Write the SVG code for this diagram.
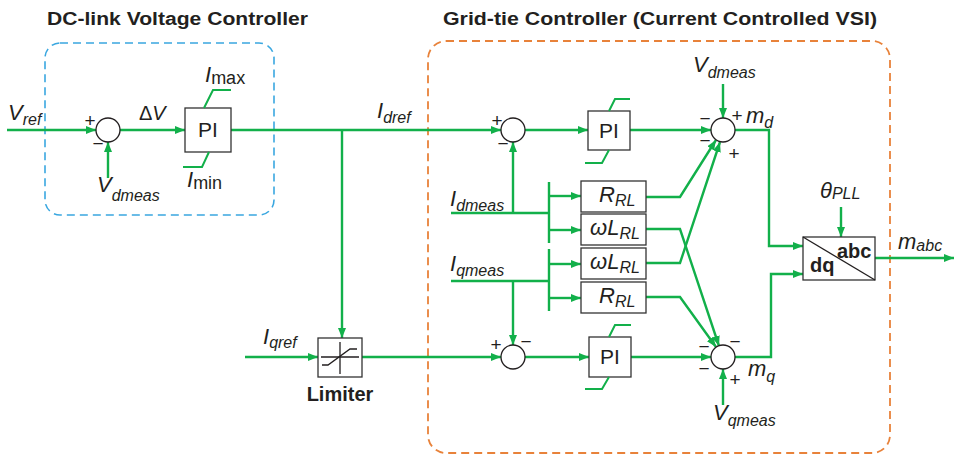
<svg xmlns="http://www.w3.org/2000/svg" width="956" height="456" viewBox="0 0 956 456">
<defs>
<marker id="ah" markerUnits="userSpaceOnUse" markerWidth="11" markerHeight="9" refX="10" refY="4" orient="auto">
<path d="M0,0 L10,4 L0,8 z" fill="#12b04a"/>
</marker>
<style>
.w{fill:none;stroke:#12b04a;stroke-width:2.4}
.a{marker-end:url(#ah)}
.box{fill:#fff;stroke:#333;stroke-width:1.3}
.sat{fill:none;stroke:#12b04a;stroke-width:2}
.t{font-family:"Liberation Sans",Arial,sans-serif;fill:#231f20}
.v{font-family:"Liberation Sans",Arial,sans-serif;font-style:italic;font-size:22px;fill:#231f20}
.s{font-size:16px}
.b{font-family:"Liberation Sans",Arial,sans-serif;font-weight:bold;fill:#231f20}
.sg{font-family:"Liberation Sans",Arial,sans-serif;font-size:19px;fill:#231f20;text-anchor:middle}
.ln{fill:none;stroke:#231f20;stroke-width:1.3}
</style>
</defs>
<rect width="956" height="456" fill="#fff"/>

<g id="titles">
<text class="b" x="47" y="25" font-size="18" textLength="261" lengthAdjust="spacingAndGlyphs">DC-link Voltage Controller</text>
<text class="b" x="443" y="25" font-size="18" textLength="434" lengthAdjust="spacingAndGlyphs">Grid-tie Controller (Current Controlled VSI)</text>
</g>

<g id="dc-link-box">
<rect x="45" y="43" width="229" height="172" rx="15" fill="none" stroke="#3aa7e0" stroke-width="1.6" stroke-dasharray="8,5"/>
</g>
<g id="grid-tie-box">
<rect x="428" y="41" width="462" height="412" rx="18" fill="none" stroke="#e8823a" stroke-width="1.8" stroke-dasharray="8,5"/>
</g>

<g id="connectors">
<path class="w a" d="M7,130 H96"/>
<path class="w a" d="M108,178 V142"/>
<path class="w a" d="M120,130 H185"/>
<path class="w a" d="M231,130 H501"/>
<path class="w a" d="M342,130 V338"/>
<path class="w a" d="M245,357 H318"/>
<path class="w a" d="M362,357 H501"/>
<path class="w a" d="M525,130 H588"/>
<path class="w a" d="M525,357 H589"/>
<path class="w" d="M451,213 H549 M549,182 V243"/>
<path class="w a" d="M549,196 H581"/>
<path class="w a" d="M549,230 H581"/>
<path class="w a" d="M513,213 V142"/>
<path class="w" d="M451,281 H549 M549,249 V311"/>
<path class="w a" d="M549,264 H581"/>
<path class="w a" d="M549,298 H581"/>
<path class="w a" d="M513,281 V345"/>
<path class="w a" d="M630,130 H711"/>
<path class="w a" d="M631,357 H711"/>
<path class="w a" d="M646,197 H680 L716,140"/>
<path class="w a" d="M646,263 H680 L720,142"/>
<path class="w a" d="M646,229 H680 L719,346"/>
<path class="w a" d="M646,297 H680 L716,347"/>
<path class="w a" d="M723,84 V118"/>
<path class="w a" d="M723,405 V369"/>
<path class="w a" d="M735,130 H769 V246 H803"/>
<path class="w a" d="M735,357 H771 V274 H803"/>
<path class="w a" d="M841,207 V237"/>
<path class="w a" d="M875,258 H954"/>
</g>

<g id="labels">
<text class="v" x="8" y="120">V<tspan class="s" dy="5">ref</tspan></text>
<text class="v" x="97" y="192">V<tspan class="s" dy="9">dmeas</tspan></text>
<text class="t" x="139" y="120" font-size="20">Δ<tspan font-style="italic">V</tspan></text>
<text class="v" x="205" y="82">I<tspan font-style="normal" font-size="18" dy="2">max</tspan></text>
<text class="v" x="187" y="187">I<tspan font-style="normal" font-size="18" dy="2">min</tspan></text>
<text class="v" x="377" y="118">I<tspan class="s" dy="5">dref</tspan></text>
<text class="v" x="263" y="344">I<tspan class="s" dy="4">qref</tspan></text>
<text class="v" x="450" y="206">I<tspan class="s" dy="5">dmeas</tspan></text>
<text class="v" x="450" y="271">I<tspan class="s" dy="5">qmeas</tspan></text>
<text class="v" x="693" y="72">V<tspan class="s" dy="6">dmeas</tspan></text>
<text class="v" x="713" y="420">V<tspan class="s" dy="6">qmeas</tspan></text>
<text class="v" x="746" y="123">m<tspan class="s" dy="5">d</tspan></text>
<text class="v" x="748" y="376">m<tspan class="s" dy="6">q</tspan></text>
<text class="v" x="820" y="198">θ<tspan class="s" dy="1">PLL</tspan></text>
<text class="v" x="898" y="249">m<tspan class="s" dy="2">abc</tspan></text>
<text class="b" x="340" y="401" font-size="20" text-anchor="middle">Limiter</text>
</g>

<g id="sum1">
<circle cx="108" cy="130" r="12" fill="#fff" stroke="#231f20" stroke-width="1.3"/>
<text class="sg" x="90" y="127">+</text>
<text class="sg" x="98" y="150">−</text>
</g>

<g id="pi1">
<rect class="box" x="185" y="108" width="46" height="44"/>
<text class="t" x="208" y="137" font-size="21" text-anchor="middle">PI</text>
<path class="sat" d="M204,108 L213,90 H231 M209,152 L202,167 H183"/>
</g>

<g id="limiter">
<rect class="box" x="318" y="338" width="44" height="39"/>
<path class="ln" d="M321,357 H359 M340,342 V374"/>
<path class="ln" d="M322,365 H328 L350,349 H357"/>
</g>

<g id="sum2">
<circle cx="513" cy="130" r="12" fill="#fff" stroke="#231f20" stroke-width="1.3"/>
<text class="sg" x="497" y="127">+</text>
<text class="sg" x="503" y="150">−</text>
</g>

<g id="pi2">
<rect class="box" x="588" y="111" width="42" height="39"/>
<text class="t" x="609" y="138" font-size="21" text-anchor="middle">PI</text>
<path class="sat" d="M609,111 L615,99 H630 M609,150 L602,163 H585"/>
</g>

<g id="sum5">
<circle cx="513" cy="357" r="12" fill="#fff" stroke="#231f20" stroke-width="1.3"/>
<text class="sg" x="496" y="351">+</text>
<text class="sg" x="526" y="348">−</text>
</g>

<g id="pi3">
<rect class="box" x="589" y="337" width="42" height="40"/>
<text class="t" x="610" y="364" font-size="21" text-anchor="middle">PI</text>
<path class="sat" d="M609,337 L615,325 H631 M609,377 L602,389 H585"/>
</g>

<g id="rl1">
<rect class="box" x="581" y="181" width="65" height="31"/>
<text class="v" x="599" y="202">R<tspan class="s" dy="4">RL</tspan></text>
</g>
<g id="wl1">
<rect class="box" x="581" y="214" width="65" height="31"/>
<text class="v" x="590" y="235">ωL<tspan class="s" dy="4">RL</tspan></text>
</g>
<g id="wl2">
<rect class="box" x="581" y="248" width="65" height="31"/>
<text class="v" x="590" y="269">ωL<tspan class="s" dy="4">RL</tspan></text>
</g>
<g id="rl2">
<rect class="box" x="581" y="282" width="65" height="31"/>
<text class="v" x="599" y="303">R<tspan class="s" dy="4">RL</tspan></text>
</g>

<g id="sum-md">
<circle cx="723" cy="130" r="12" fill="#fff" stroke="#231f20" stroke-width="1.3"/>
<text class="sg" x="705" y="125" font-size="17">−</text>
<text class="sg" x="705" y="147" font-size="17">−</text>
<text class="sg" x="737" y="122">+</text>
<text class="sg" x="734" y="160">+</text>
</g>

<g id="sum-mq">
<circle cx="723" cy="357" r="12" fill="#fff" stroke="#231f20" stroke-width="1.3"/>
<text class="sg" x="735" y="348">−</text>
<text class="sg" x="704" y="353" font-size="17">−</text>
<text class="sg" x="704" y="375" font-size="17">−</text>
<text class="sg" x="735" y="386">+</text>
</g>

<g id="dq-abc">
<rect class="box" x="803" y="237" width="72" height="43"/>
<path class="ln" d="M803,237 L875,280"/>
<text class="b" x="837" y="258" font-size="20">abc</text>
<text class="b" x="810" y="272" font-size="20">dq</text>
</g>
</svg>
